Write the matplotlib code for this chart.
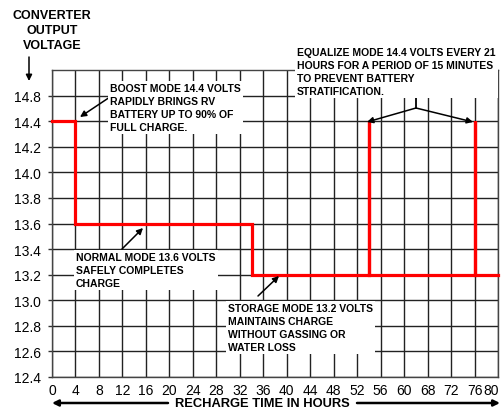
import matplotlib
matplotlib.use("Agg")
import matplotlib.pyplot as plt
from matplotlib.transforms import ScaledTranslation

# axis ticks as printed on the chart (the original skips 14.6 and 64)
x_ticks = [0, 4, 8, 12, 16, 20, 24, 28, 32, 36, 40, 44, 48, 52, 56, 60, 64, 68, 72, 76]
x_labels = ["0", "4", "8", "12", "16", "20", "24", "28", "32", "36", "40", "44",
            "48", "52", "56", "60", "68", "72", "76", "80"]
y_ticks = [12.4, 12.6, 12.8, 13.0, 13.2, 13.4, 13.6, 13.8, 14.0, 14.2, 14.4, 14.6]
y_labels = ["12.4", "12.6", "12.8", "13.0", "13.2", "13.4", "13.6", "13.8",
            "14.0", "14.2", "14.4", "14.8"]

# charging profile (hours on the chart grid, volts)
t = [0, 4, 4, 34, 34, 54, 54, 54, 72, 72, 72, 76]
v = [14.4, 14.4, 13.6, 13.6, 13.2, 13.2, 14.4, 13.2, 13.2, 14.4, 13.2, 13.2]

W, H = 501, 410
plt.rcParams["font.family"] = ["Liberation Sans", "DejaVu Sans"]

fig = plt.figure(figsize=(W / 100, H / 100), dpi=100)
ax = fig.add_axes([52 / W, 1 - 378 / H, (498 - 52) / W, (378 - 71) / H])

ax.plot(t, v, color="#ff0000", lw=2.3, solid_joinstyle="miter", zorder=3, clip_on=False)
ax.set_xlim(0, 76)
ax.set_ylim(12.4, 14.8)
ax.set_xticks(x_ticks)
ax.set_xticklabels(x_labels, fontsize=10)
ax.set_yticks(y_ticks)
ax.set_yticklabels(y_labels, fontsize=10)
ax.tick_params(axis="x", length=0, pad=4)
ax.tick_params(axis="y", length=3, width=1, color="#333333", pad=5)
ax.grid(True, color="#222222", lw=1.0)
for s in ax.spines.values():
    s.set_color("#444444")
    s.set_linewidth(1.0)

# keep the last x label inside the picture
last = ax.get_xticklabels()[-1]
last.set_transform(last.get_transform() + ScaledTranslation(-7 / 100, 0, fig.dpi_scale_trans))


def fp(px, py):
    return (px / W, 1 - py / H)


tfont = dict(fontsize=7.5, fontweight="bold", va="top", ha="left", linespacing=1.36,
             bbox=dict(facecolor="white", edgecolor="none", pad=1.5))
fig.text(*fp(110, 84), "BOOST MODE 14.4 VOLTS\nRAPIDLY BRINGS RV\nBATTERY UP TO 90% OF\nFULL CHARGE.", **tfont)
fig.text(*fp(297, 48), "EQUALIZE MODE 14.4 VOLTS EVERY 21\nHOURS FOR A PERIOD OF 15 MINUTES\nTO PREVENT BATTERY\nSTRATIFICATION.", **tfont)
fig.text(*fp(76, 253), "NORMAL MODE 13.6 VOLTS\nSAFELY COMPLETES\nCHARGE", **tfont)
fig.text(*fp(228, 304), "STORAGE MODE 13.2 VOLTS\nMAINTAINS CHARGE\nWITHOUT GASSING OR\nWATER LOSS", **tfont)

arr = dict(arrowstyle="-|>", color="black", lw=1.1, mutation_scale=9, shrinkA=0, shrinkB=0)
ax.annotate("", xy=fp(80, 118), xytext=fp(110, 98), xycoords="figure fraction", arrowprops=arr)
ax.annotate("", xy=fp(143, 229), xytext=fp(122, 250), xycoords="figure fraction", arrowprops=arr)
ax.annotate("", xy=fp(279, 277), xytext=fp(258, 297), xycoords="figure fraction", arrowprops=arr)
ax.annotate("", xy=fp(367, 123), xytext=fp(416, 109), xycoords="figure fraction", arrowprops=arr)
ax.annotate("", xy=fp(473, 123), xytext=fp(416, 109), xycoords="figure fraction", arrowprops=arr)
fig.add_artist(plt.Line2D([416 / W, 416 / W], [1 - 83 / H, 1 - 109 / H], color="black", lw=1.3))

# y axis title and arrow
fig.text(*fp(52, 10), "CONVERTER\nOUTPUT\nVOLTAGE", fontsize=9, fontweight="bold",
         ha="center", va="top", linespacing=1.33)
ax.annotate("", xy=fp(29, 82), xytext=fp(29, 58), xycoords="figure fraction", arrowprops=arr)

# x axis title with arrows
fig.text(*fp(262, 404), "RECHARGE TIME IN HOURS", fontsize=9.3, fontweight="bold", ha="center", va="center")
ax.annotate("", xy=fp(52, 404), xytext=fp(168, 404), xycoords="figure fraction", arrowprops=dict(arr, lw=1.8))
ax.annotate("", xy=fp(500, 404), xytext=fp(357, 404), xycoords="figure fraction", arrowprops=dict(arr, lw=1.8))

fig.savefig("out.png", dpi=100)
